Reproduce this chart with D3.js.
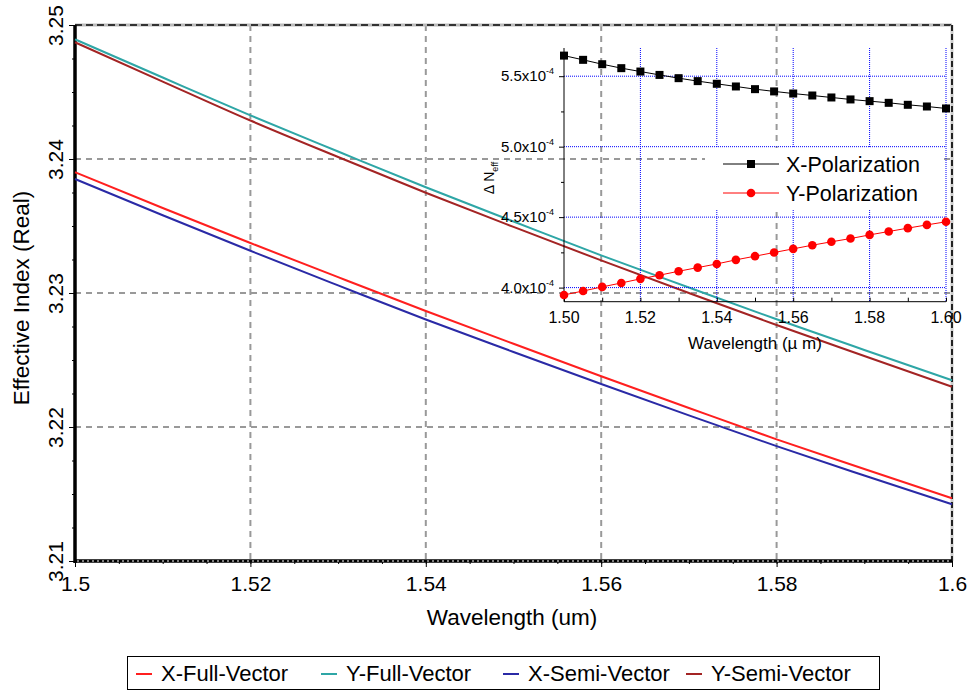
<!DOCTYPE html>
<html>
<head>
<meta charset="utf-8">
<script src="https://cdn.jsdelivr.net/npm/d3@7"></script>
<style>
body { margin: 0; background: #fff; }
text { font-family: "Liberation Sans", Arial, sans-serif; fill: #000; }
</style>
</head>
<body>
<svg id="chart"></svg>
<script>
// main chart data (wavelength in um, effective index)
const wavelength = [1.50, 1.51, 1.52, 1.53, 1.54, 1.55, 1.56, 1.57, 1.58, 1.59, 1.60]
const xFullVector = [3.23901, 3.23634, 3.23373, 3.23118, 3.22866, 3.22621, 3.22379, 3.22142, 3.21908, 3.21687, 3.21468]
const yFullVector = [3.24893, 3.24608, 3.24326, 3.24056, 3.23789, 3.23534, 3.23281, 3.23041, 3.22804, 3.22575, 3.22349]
const xSemiVector = [3.23851, 3.23580, 3.23315, 3.23057, 3.22802, 3.22560, 3.22321, 3.22087, 3.21857, 3.21638, 3.21423]
const ySemiVector = [3.24871, 3.24578, 3.24287, 3.24015, 3.23748, 3.23493, 3.23243, 3.23000, 3.22761, 3.22530, 3.22300]
const seriesNames = ['X-Full-Vector', 'Y-Full-Vector', 'X-Semi-Vector', 'Y-Semi-Vector']
const seriesColors = ['#ff1f1f', '#2ea6a6', '#2a2aa6', '#a32424']

const xTicks = [1.5, 1.52, 1.54, 1.56, 1.58, 1.6]
const yTicks = [3.21, 3.22, 3.23, 3.24, 3.25]

// inset data (birefringence)
const polWavelength = [1.500, 1.505, 1.510, 1.515, 1.520, 1.525, 1.530, 1.535, 1.540, 1.545, 1.550,
    1.555, 1.560, 1.565, 1.570, 1.575, 1.580, 1.585, 1.590, 1.595, 1.600]
const xPolarization = [5.646e-4, 5.616e-4, 5.585e-4, 5.557e-4, 5.533e-4, 5.509e-4, 5.486e-4, 5.465e-4, 5.446e-4, 5.427e-4, 5.408e-4,
    5.392e-4, 5.377e-4, 5.363e-4, 5.349e-4, 5.335e-4, 5.323e-4, 5.311e-4, 5.297e-4, 5.285e-4, 5.271e-4]
const yPolarization = [3.948e-4, 3.976e-4, 4.005e-4, 4.033e-4, 4.062e-4, 4.088e-4, 4.116e-4, 4.142e-4, 4.168e-4, 4.197e-4, 4.223e-4,
    4.249e-4, 4.275e-4, 4.301e-4, 4.325e-4, 4.348e-4, 4.374e-4, 4.398e-4, 4.422e-4, 4.445e-4, 4.467e-4]
const insetXTicks = [1.50, 1.52, 1.54, 1.56, 1.58, 1.60]
const insetYTicks = [4.0e-4, 4.5e-4, 5.0e-4, 5.5e-4]
const insetYLabels = ['4.0', '4.5', '5.0', '5.5']

let svg = d3.select('#chart').attr('width', 968).attr('height', 692)

let m = {left: 75, right: 952, top: 25, bottom: 561}
let x = d3.scaleLinear().domain([1.5, 1.6]).range([m.left, m.right])
let y = d3.scaleLinear().domain([3.21, 3.25]).range([m.bottom, m.top])

let gridG = svg.append('g').attr('id', 'gridG')
gridG.selectAll('.vgrid')
    .data(xTicks.slice(1, -1))
    .enter().append('line')
    .attr('x1', d => x(d)).attr('x2', d => x(d))
    .attr('y1', m.top).attr('y2', m.bottom)
    .attr('stroke', '#999').attr('stroke-width', 2).attr('stroke-dasharray', '6,5')
gridG.selectAll('.hgrid')
    .data(yTicks.slice(1, -1))
    .enter().append('line')
    .attr('x1', m.left).attr('x2', m.right)
    .attr('y1', d => y(d)).attr('y2', d => y(d))
    .attr('stroke', '#999').attr('stroke-width', 2).attr('stroke-dasharray', '6,5')

// top and right frame, dashed
gridG.append('line').attr('x1', m.left).attr('x2', m.right).attr('y1', m.top).attr('y2', m.top)
    .attr('stroke', '#bbb').attr('stroke-width', 3)
gridG.append('line').attr('x1', m.left).attr('x2', m.right).attr('y1', m.top).attr('y2', m.top)
    .attr('stroke', '#333').attr('stroke-width', 2).attr('stroke-dasharray', '7,4')
gridG.append('line').attr('x1', m.right).attr('x2', m.right).attr('y1', m.top).attr('y2', m.bottom)
    .attr('stroke', '#ccc').attr('stroke-width', 3)
gridG.append('line').attr('x1', m.right).attr('x2', m.right).attr('y1', m.top).attr('y2', m.bottom)
    .attr('stroke', '#222').attr('stroke-width', 2).attr('stroke-dasharray', '6,3')

// axes
let axisBottom = d3.axisBottom(x).tickValues(xTicks).tickSize(6).tickFormat(d => String(+d.toFixed(2)))
let xAxisG = svg.append('g')
    .attr('transform', `translate(0, ${m.bottom})`)
    .call(axisBottom)
xAxisG.select('.domain').remove()
xAxisG.selectAll('text').attr('font-size', 21).attr('dy', '1em')
svg.append('g')
    .attr('transform', `translate(0, ${m.bottom})`)
    .call(d3.axisBottom(x).tickValues(d3.range(1.5, 1.6001, 0.005)).tickSize(3).tickFormat(''))
    .select('.domain').remove()

let axisLeft = d3.axisLeft(y).tickValues(yTicks).tickSize(6).tickFormat(d => d.toFixed(2))
let yAxisG = svg.append('g')
    .attr('transform', `translate(${m.left}, 0)`)
    .call(axisLeft)
yAxisG.select('.domain').remove()
yAxisG.selectAll('text')
    .attr('font-size', 21)
    .attr('x', 0).attr('y', 0).attr('dy', null)
    .attr('text-anchor', 'middle')
    .attr('transform', 'translate(-12, 0) rotate(-90)')
svg.append('g')
    .attr('transform', `translate(${m.left}, 0)`)
    .call(d3.axisLeft(y).tickValues(d3.range(3.21, 3.2501, 0.0025)).tickSize(3).tickFormat(''))
    .select('.domain').remove()

svg.append('line').attr('x1', m.left).attr('x2', m.left).attr('y1', m.top).attr('y2', m.bottom + 2)
    .attr('stroke', '#000').attr('stroke-width', 3.5)
svg.append('line').attr('x1', m.left - 1).attr('x2', m.right).attr('y1', m.bottom).attr('y2', m.bottom)
    .attr('stroke', '#000').attr('stroke-width', 3.5)
svg.append('line').attr('x1', m.left + 2).attr('x2', m.right).attr('y1', m.bottom).attr('y2', m.bottom)
    .attr('stroke', '#fff').attr('stroke-width', 1).attr('stroke-dasharray', '2,3')

svg.append('text')
    .attr('x', 512).attr('y', 625)
    .attr('text-anchor', 'middle').attr('font-size', 22.5)
    .text('Wavelength (um)')
svg.append('text')
    .attr('transform', `translate(29, ${(m.top + m.bottom) / 2 + 5}) rotate(-90)`)
    .attr('text-anchor', 'middle').attr('font-size', 22.5)
    .text('Effective Index (Real)')

// main series
let mainSeries = [xFullVector, yFullVector, xSemiVector, ySemiVector]
let line = d3.line().x((d, i) => x(wavelength[i])).y(d => y(d)).curve(d3.curveMonotoneX)
svg.append('g').selectAll('.series')
    .data(mainSeries)
    .enter().append('path')
    .attr('d', d => line(d))
    .attr('fill', 'none')
    .attr('stroke', (d, i) => seriesColors[i])
    .attr('stroke-width', 2)

// legend at bottom
let legendG = svg.append('g').attr('id', 'legendG')
legendG.append('rect').attr('x', 127.5).attr('y', 656.5).attr('width', 752).attr('height', 33)
    .attr('fill', '#fff').attr('stroke', '#000').attr('stroke-width', 1)
let legendX = [136, 321, 503, 686]
seriesNames.forEach((name, i) => {
    legendG.append('line')
        .attr('x1', legendX[i]).attr('x2', legendX[i] + 16)
        .attr('y1', 674).attr('y2', 674)
        .attr('stroke', seriesColors[i]).attr('stroke-width', 2)
    legendG.append('text')
        .attr('x', legendX[i] + 25).attr('y', 681)
        .attr('font-size', 22)
        .text(name)
})

// inset
let ix = d3.scaleLinear().domain([1.50, 1.60]).range([564, 946])
let iy = d3.scaleLinear().domain([3.9e-4, 5.7e-4]).range([301.7, 48])
let insetG = svg.append('g').attr('id', 'insetG')

insetG.selectAll('.ivgrid')
    .data(insetXTicks.slice(1))
    .enter().append('line')
    .attr('x1', d => ix(d)).attr('x2', d => ix(d))
    .attr('y1', iy(5.7e-4)).attr('y2', iy(3.9e-4))
    .attr('stroke', '#0000ff').attr('stroke-width', 1).attr('stroke-dasharray', '1,1')
insetG.selectAll('.ihgrid')
    .data(insetYTicks)
    .enter().append('line')
    .attr('x1', ix(1.50)).attr('x2', ix(1.60))
    .attr('y1', d => iy(d)).attr('y2', d => iy(d))
    .attr('stroke', '#0000ff').attr('stroke-width', 1).attr('stroke-dasharray', '1,1')

// inset legend background covers grid behind it
insetG.append('rect').attr('x', 705).attr('y', 148).attr('width', 236).attr('height', 62).attr('fill', '#fff')

insetG.append('line').attr('x1', ix(1.50)).attr('x2', ix(1.50)).attr('y1', iy(5.7e-4)).attr('y2', iy(3.9e-4))
    .attr('stroke', '#000').attr('stroke-width', 1)
insetG.append('line').attr('x1', ix(1.50)).attr('x2', ix(1.60)).attr('y1', iy(3.9e-4)).attr('y2', iy(3.9e-4))
    .attr('stroke', '#000').attr('stroke-width', 1)

let iAxisX = insetG.append('g')
    .attr('transform', `translate(0, ${iy(3.9e-4)})`)
    .call(d3.axisTop(ix).tickValues(d3.range(1.50, 1.6001, 0.01)).tickSize(4).tickFormat(''))
iAxisX.select('.domain').remove()
insetG.selectAll('.ixlabel')
    .data(insetXTicks)
    .enter().append('text')
    .attr('x', d => ix(d)).attr('y', 323)
    .attr('text-anchor', 'middle').attr('font-size', 16)
    .text(d => d.toFixed(2))

let iAxisY = insetG.append('g')
    .attr('transform', `translate(${ix(1.50)}, 0)`)
    .call(d3.axisLeft(iy).tickValues(insetYTicks).tickSize(5).tickFormat(''))
iAxisY.select('.domain').remove()
insetG.append('g')
    .attr('transform', `translate(${ix(1.50)}, 0)`)
    .call(d3.axisLeft(iy).tickValues([4.25e-4, 4.75e-4, 5.25e-4]).tickSize(3).tickFormat(''))
    .select('.domain').remove()

let iyLabels = insetG.selectAll('.iylabel')
    .data(insetYTicks)
    .enter().append('text')
    .attr('x', 554).attr('y', d => iy(d) + 5)
    .attr('text-anchor', 'end').attr('font-size', 15)
iyLabels.append('tspan').text((d, i) => insetYLabels[i] + 'x10')
iyLabels.append('tspan').attr('dy', -7).attr('font-size', 9).text('-4')

insetG.append('text')
    .attr('x', 755).attr('y', 349)
    .attr('text-anchor', 'middle').attr('font-size', 17)
    .text('Wavelength (\u00b5 m)')

let iyTitle = insetG.append('text')
    .attr('transform', 'translate(494, 178) rotate(-90)')
    .attr('text-anchor', 'middle').attr('font-size', 14)
iyTitle.append('tspan').text('\u0394 N')
iyTitle.append('tspan').attr('dy', 4).attr('font-size', 9).text('eff')

let xPolLine = d3.line().x((d, i) => ix(polWavelength[i])).y(d => iy(d))
insetG.append('path').attr('d', xPolLine(xPolarization))
    .attr('fill', 'none').attr('stroke', '#000').attr('stroke-width', 1)
insetG.append('path').attr('d', xPolLine(yPolarization))
    .attr('fill', 'none').attr('stroke', '#ff0000').attr('stroke-width', 1)
insetG.selectAll('.xPolPts')
    .data(xPolarization)
    .enter().append('rect')
    .attr('x', (d, i) => ix(polWavelength[i]) - 4).attr('y', d => iy(d) - 4)
    .attr('width', 8).attr('height', 8).attr('fill', '#000')
insetG.selectAll('.yPolPts')
    .data(yPolarization)
    .enter().append('circle')
    .attr('cx', (d, i) => ix(polWavelength[i])).attr('cy', d => iy(d))
    .attr('r', 4.3).attr('fill', '#ff0000')

// inset legend
let insetLegend = [
    {name: 'X-Polarization', color: '#000', shape: 'square', y: 164},
    {name: 'Y-Polarization', color: '#ff0000', shape: 'circle', y: 193}
]
insetLegend.forEach(d => {
    insetG.append('line').attr('x1', 723).attr('x2', 779).attr('y1', d.y).attr('y2', d.y)
        .attr('stroke', d.color).attr('stroke-width', 1)
    if (d.shape === 'square') {
        insetG.append('rect').attr('x', 747).attr('y', d.y - 4).attr('width', 8).attr('height', 8).attr('fill', d.color)
    } else {
        insetG.append('circle').attr('cx', 751).attr('cy', d.y).attr('r', 4.3).attr('fill', d.color)
    }
    insetG.append('text').attr('x', 786).attr('y', d.y + 7.5)
        .attr('font-size', 21.5)
        .text(d.name)
})
</script>
</body>
</html>
